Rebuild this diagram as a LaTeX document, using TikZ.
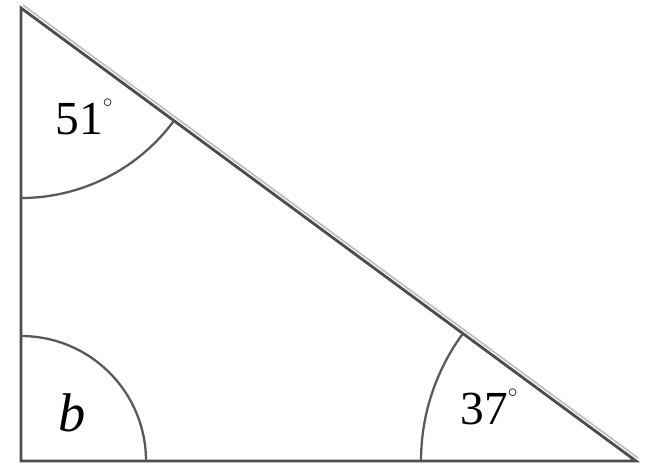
\documentclass[tikz,border=0pt]{standalone}
\usepackage{fontspec}
\setmainfont{Liberation Serif}
\usetikzlibrary{calc}
\newcommand{\degsign}{\raisebox{1.25ex}{\fontsize{11}{11}\selectfont$\circ$}}
\tikzset{%
   % sides of the triangle
   side/.style={
      draw=black!70,
      line width=1.6pt,
      line cap=round,
      line join=miter
   },
   anglearc/.style={
      draw=black!65,
      line width=1.3pt
   },
   anglelabel/.style={
      inner sep=0pt,
      font=\fontsize{27}{28}\selectfont
   },
}

\begin{document}
\begin{tikzpicture}[x=0.02cm, y=-0.02cm]
   \useasboundingbox (0,0) rectangle (646,468);
   \coordinate (A) at (21,8);
   \coordinate (B) at (21,461);
   \coordinate (C) at (636,461);
   % hypotenuse, with the light edge above it
   \draw[black!25, line width=1pt] ($(A)+(2,-3)$) -- ($(C)+(2,-3)$);
   \draw[side] (A) -- (B) -- (C) -- cycle;
   % angle arcs
   \draw[anglearc] ($(A)+(0,190)$) arc[start angle=-90, end angle=-36.4, radius=190*0.02cm];
   \draw[anglearc] ($(B)+(0,-125)$) arc[start angle=90, end angle=0, radius=125*0.02cm];
   \draw[anglearc] ($(C)+(-215,0)$) arc[start angle=180, end angle=143.6, radius=215*0.02cm];
   % labels
   \node[anglelabel] (top) at (84,117) {51\degsign};
   \node[anglelabel, font=\fontsize{31}{32}\selectfont] (right) at (72,413) {\itshape b};
   \node[anglelabel] (bottom) at (489,407) {37\degsign};
\end{tikzpicture}
\end{document}
